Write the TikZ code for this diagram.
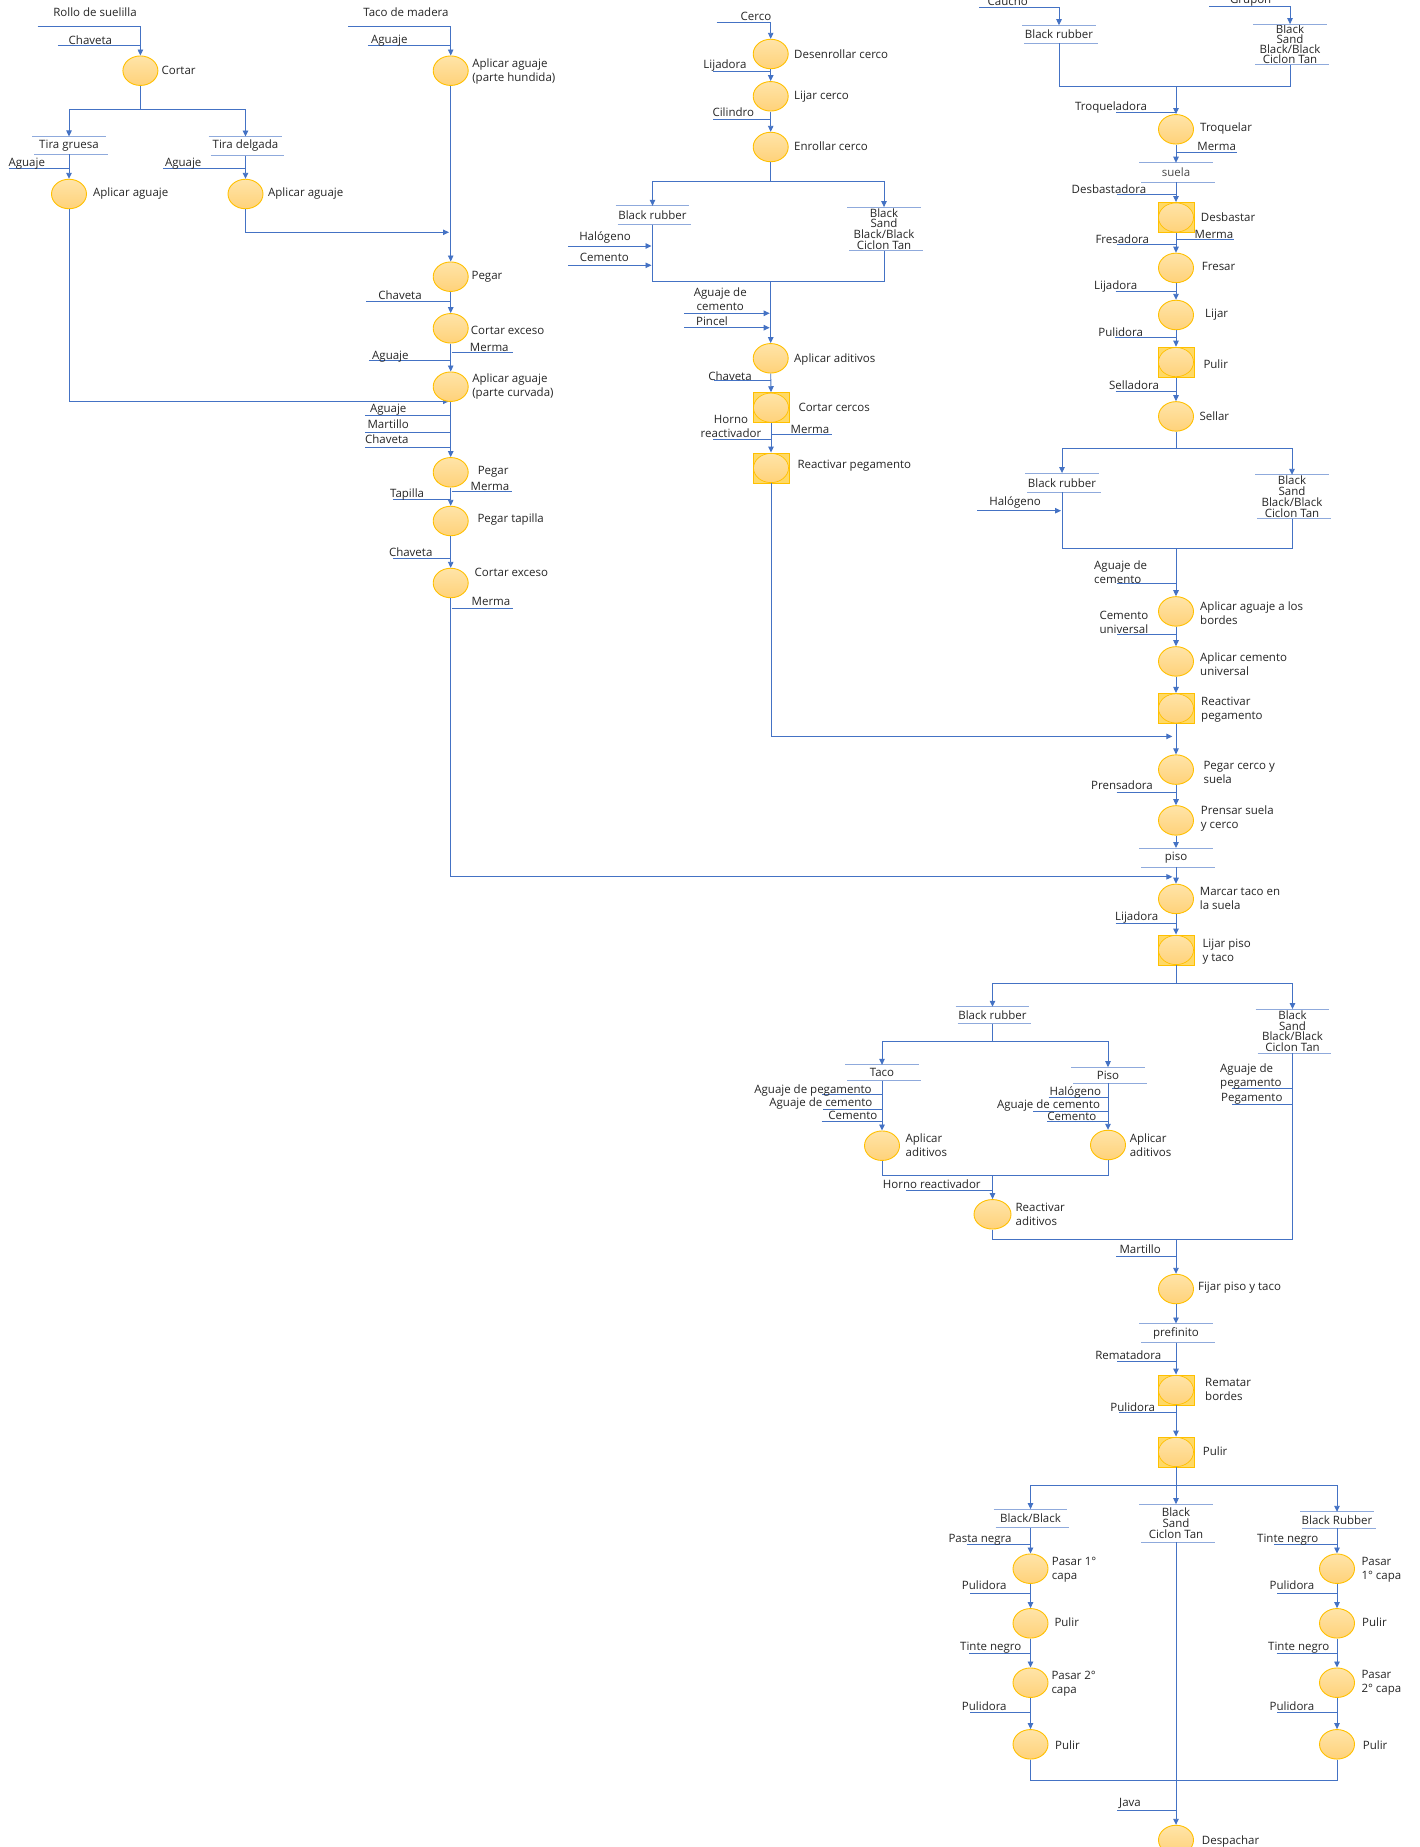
\documentclass[tikz,border=0pt]{standalone}
\usepackage{fontspec}
\setmainfont{Open Sans}
\usetikzlibrary{shapes.geometric,arrows.meta}
\definecolor{ink}{HTML}{262626}
\definecolor{cblue}{HTML}{4472C4}
\definecolor{lblue}{HTML}{8FAADC}
\definecolor{gold}{HTML}{FFC000}
\definecolor{procTop}{HTML}{FFE4A8}
\definecolor{procBot}{HTML}{FFD27A}
\definecolor{sqfill}{HTML}{FFD966}
\newcommand\fs{\fontsize{11.5pt}{14pt}\selectfont}
\newcommand\fb{\fontsize{11.5pt}{10.8pt}\selectfont}
\newcommand\fbt{\fontsize{11.5pt}{8.8pt}\selectfont}
% input line ending on a column: name, x0, y, target node, text, text x, text y
\newcommand\feedin[7]{\coordinate (#1) at (#2,#3);\draw[feed] (#1) -- (#1 -| #4);\node[tx] (#1t) at (#6,#7) {#5};}
% output line leaving a column to the right
\newcommand\feedout[7]{\coordinate (#1) at (#2,#3);\draw[feed] ([xshift=1pt]#1 -| #4) -- (#1);\node[tx] (#1t) at (#6,#7) {#5};}
% input arrow pointing at a column
\newcommand\feedarr[7]{\coordinate (#1) at (#2,#3);\draw[arr] (#1) -- ([xshift=-1pt]#1 -| #4);\node[tx] (#1t) at (#6,#7) {#5};}
\begin{document}
\begin{tikzpicture}[x=1pt,y=-1pt,
  tx/.style={inner sep=0pt, align=center, font=\fs, text=ink},
  lbl/.style={anchor=west, inner sep=0pt, align=left, font=\fs, text=ink},
  conn/.style={draw=cblue, line width=0.9pt},
  arr/.style={conn, -{Triangle[length=6pt,width=5.5pt]}},
  feed/.style={draw=cblue, line width=0.9pt},
  boxline/.style={draw=lblue, line width=1pt},
  proc/.style={ellipse, draw=gold, line width=0.9pt, top color=procTop, bottom color=procBot,
    minimum width=35pt, minimum height=29.5pt, inner sep=0pt},
  sq/.style={rectangle, draw=gold, line width=0.9pt, fill=sqfill, minimum width=36pt,
    minimum height=30pt, inner sep=0pt,
    path picture={\draw[gold, line width=0.7pt, top color=procTop, bottom color=procBot]
      (path picture bounding box.center) ellipse [x radius=17.5pt, y radius=14.6pt];}},
  mat/.style={inner sep=0pt, align=center, font=\fb, text=ink, minimum width=73.5pt,
    minimum height=#1,
    append after command={(\tikzlastnode.north west) edge[boxline] (\tikzlastnode.north east)
      ([xshift=2pt]\tikzlastnode.south west) edge[boxline] ([xshift=2pt]\tikzlastnode.south east)}},
  mat/.default=18pt]
\useasboundingbox (0,0) rectangle (1419,1847);
\fill[white] (0,0) rectangle (1419,1847);

%% ---------------- suelilla strips ----------------
\node[tx] (rollo) at (95,12.3) {Rollo de suelilla};
\coordinate (rolloS) at (37.5,26.3);
\node[proc] (cortar) at (140.4,70.7) {};
\node[lbl] (cortarL) at (161.4,70.7) {Cortar};
\draw[arr] (rolloS) -| (cortar.north);
\feedin{fa1}{57.9}{45}{cortar}{Chaveta}{90.4}{40.5}
\coordinate (splA) at (140.4,109.3);
\draw[conn] (cortar.south) -- (splA);
\node[mat=17.3pt] (gruesa) at (69,145.3) {Tira gruesa};
\node[mat=18.6pt] (delgada) at (245.5,146) {Tira delgada};
\draw[arr] (splA) -| (gruesa.north);
\draw[arr] (splA) -| (delgada.north);
\node[proc] (apA1) at (69,194) {};
\node[lbl] (apA1L) at (92.9,194) {Aplicar aguaje};
\draw[arr] (gruesa.south) -- (apA1.north);
\feedin{fa2}{8.9}{168.3}{apA1}{Aguaje}{26.8}{163.5}
\node[proc] (apA2) at (245.5,194) {};
\node[lbl] (apA2L) at (267.9,194) {Aplicar aguaje};
\draw[arr] (delgada.south) -- (apA2.north);
\feedin{fa3}{162.9}{168.3}{apA2}{Aguaje}{183.2}{164}
\coordinate (inB1) at (449,232.3);
\coordinate (inB2) at (449,401.3);
\draw[arr] (apA2.south) |- (inB1);
\draw[arr] (apA1.south) |- (inB2);

%% ---------------- wooden heel ----------------
\node[tx] (taco) at (406,12.3) {Taco de madera};
\coordinate (tacoS) at (348.2,26.3);
\node[proc] (apB1) at (450.7,70.7) {};
\node[lbl] (apB1L) at (472.1,71.5) {Aplicar aguaje\\(parte hundida)};
\draw[arr] (tacoS) -| (apB1.north);
\feedin{fb1}{367.9}{45}{apB1}{Aguaje}{389.3}{41}
\node[proc] (pegB1) at (450.7,276.7) {};
\node[lbl] (pegB1L) at (471.4,276.7) {Pegar};
\draw[arr] (apB1.south) -- (pegB1.north);
\feedin{fb2}{366}{301}{pegB1}{Chaveta}{400}{295.3}
\node[proc] (cortB1) at (450.7,328.3) {};
\node[lbl] (cortB1L) at (470.7,330.7) {Cortar exceso};
\draw[arr] (pegB1.south) -- (cortB1.north);
\feedout{mb1}{512.5}{352.3}{cortB1}{Merma}{489.3}{347.3}
\feedin{fb3}{368.9}{360.7}{cortB1}{Aguaje}{390.4}{356.5}
\node[proc] (apB2) at (450.7,386.7) {};
\node[lbl] (apB2L) at (472.1,387) {Aplicar aguaje\\(parte curvada)};
\draw[arr] (cortB1.south) -- (apB2.north);
\node[proc] (pegB2) at (450.7,472.3) {};
\node[tx] (pegB2L) at (493.2,471.3) {Pegar};
\draw[arr] (apB2.south) -- (pegB2.north);
\feedin{fb4}{365}{415.7}{pegB2}{Aguaje}{388.2}{409.5}
\feedin{fb5}{365}{432.3}{pegB2}{Martillo}{388.2}{424.3}
\feedin{fb6}{365}{447.3}{pegB2}{Chaveta}{386.8}{439.3}
\feedout{mb2}{511.8}{491.3}{pegB2}{Merma}{490}{486.7}
\node[proc] (pegB3) at (450.7,521) {};
\node[tx] (pegB3L) at (510.7,519.3) {Pegar tapilla};
\draw[arr] (pegB2.south) -- (pegB3.north);
\feedin{fb7}{392.9}{499.3}{pegB3}{Tapilla}{407.1}{494.7}
\node[proc] (cortB2) at (450.7,583) {};
\node[tx] (cortB2L) at (511.4,572.3) {Cortar exceso};
\draw[arr] (pegB3.south) -- (cortB2.north);
\feedin{fb8}{392.9}{558.3}{cortB2}{Chaveta}{410.7}{551.7}
\feedout{mb3}{513.2}{608.7}{cortB2}{Merma}{491}{601.7}

%% ---------------- welt ----------------
\node[tx] (cerco) at (756,16.3) {Cerco};
\coordinate (cercoS) at (716.7,22.3);
\node[proc] (desC) at (770.7,54) {};
\node[lbl] (desCL) at (794,54) {Desenrollar cerco};
\draw[arr] (cercoS) -| (desC.north);
\node[proc] (lijC) at (770.7,96.3) {};
\node[lbl] (lijCL) at (794,96.3) {Lijar cerco};
\draw[arr] (desC.south) -- (lijC.north);
\feedin{fc1}{713.3}{71.3}{lijC}{Lijadora}{725}{66}
\node[proc] (enrC) at (770.7,147) {};
\node[lbl] (enrCL) at (794,145.7) {Enrollar cerco};
\draw[arr] (lijC.south) -- (enrC.north);
\feedin{fc2}{713.3}{119.3}{enrC}{Cilindro}{733.3}{112.3}
\coordinate (splC) at (770.7,181.3);
\draw[conn] (enrC.south) -- (splC);
\node[mat=18.3pt] (brC) at (652.5,215.2) {Black rubber};
\node[mat=43.4pt, font=\fb] (bsC) at (884,229) {Black\\Sand\\Black/Black\\Ciclon Tan};
\draw[arr] (splC) -| (brC.north);
\draw[arr] (splC) -| (bsC.north);
\coordinate (mrgC) at (770.7,281.7);
\draw[conn] (brC.south) |- (mrgC);
\draw[conn] (bsC.south) |- (mrgC);
\feedarr{fc3}{568.3}{246}{brC}{Halógeno}{605}{237.3}
\feedarr{fc4}{568.3}{265.3}{brC}{Cemento}{604.3}{257.3}
\node[proc] (adiC) at (770.7,358.3) {};
\node[lbl] (adiCL) at (794,359.3) {Aplicar aditivos};
\draw[arr] (mrgC) -- (adiC.north);
\feedarr{fc5}{684.3}{313.3}{adiC}{Aguaje de\\cemento}{720.3}{299.3}
\feedarr{fc6}{684.3}{327.7}{adiC}{Pincel}{712}{321.3}
\node[sq] (cortC) at (771,407.7) {};
\node[lbl] (cortCL) at (798.3,407.3) {Cortar cercos};
\draw[arr] (adiC.south) -- (cortC.north);
\feedin{fc7}{714}{380.7}{cortC}{Chaveta}{730}{375.7}
\node[sq] (reaC) at (771,468) {};
\node[lbl] (reaCL) at (797.3,465.3) {Reactivar pegamento};
\draw[arr] (cortC.south) -- (reaC.north);
\feedin{fc8}{713.3}{439}{reaC}{Horno\\reactivador}{731}{426.3}
\feedout{mc1}{832.3}{434.3}{reaC}{Merma}{810}{429.3}
\coordinate (inD1) at (1172.3,736.4);
\draw[arr] (reaC.south) |- (inD1);

%% ---------------- sole ----------------
\node[tx] (caucho) at (1007.7,1) {Caucho};
\coordinate (cauS) at (979,7.1);
\node[mat=17.8pt] (brD) at (1059,34.3) {Black rubber};
\draw[arr] (cauS) -| (brD.north);
\node[tx] (grupon) at (1250.7,1) {Grupon};
\coordinate (gruS) at (1209,6.4);
\node[mat=40pt, font=\fbt] (bsD1) at (1290,44.3) {Black\\Sand\\Black/Black\\Ciclon Tan};
\draw[arr] (gruS) -| (bsD1.north);
\coordinate (mrgD1) at (1176,86.1);
\draw[conn] (brD.south) |- (mrgD1);
\draw[conn] (bsD1.south) |- (mrgD1);
\node[proc] (troD) at (1176,129.3) {};
\node[lbl] (troDL) at (1200,128.6) {Troquelar};
\draw[arr] (mrgD1) -- (troD.north);
\feedin{fd1}{1116}{112.1}{troD}{Troqueladora}{1111}{107.1}
\feedout{md1}{1236.7}{152.5}{troD}{Merma}{1216.7}{146.4}
\node[mat=19.2pt, text=ink!85] (suela) at (1176,172.5) {suela};
\draw[arr] (troD.south) -- (suela.north);
\node[sq] (desD) at (1176,217.5) {};
\node[lbl] (desDL) at (1200.7,217.1) {Desbastar};
\draw[arr] (suela.south) -- (desD.north);
\feedin{fd2}{1117.3}{194.6}{desD}{Desbastadora}{1109}{189.3}
\feedout{md2}{1234}{239.6}{desD}{Merma}{1214}{234.3}
\node[proc] (freD) at (1176,267.9) {};
\node[lbl] (freDL) at (1201.7,266.1) {Fresar};
\draw[arr] (desD.south) -- (freD.north);
\feedin{fd3}{1117.3}{244.6}{freD}{Fresadora}{1122.3}{239.3}
\node[proc] (lijD) at (1176,315) {};
\node[lbl] (lijDL) at (1205,314.3) {Lijar};
\draw[arr] (freD.south) -- (lijD.north);
\feedin{fd4}{1115.7}{291.1}{lijD}{Lijadora}{1115.7}{286.1}
\node[sq] (pulD) at (1176,362.1) {};
\node[lbl] (pulDL) at (1203.3,364.3) {Pulir};
\draw[arr] (lijD.south) -- (pulD.north);
\feedin{fd5}{1115}{337.1}{pulD}{Pulidora}{1120.7}{332.1}
\node[proc] (selD) at (1176,416.4) {};
\node[lbl] (selDL) at (1199.3,416.1) {Sellar};
\draw[arr] (pulD.south) -- (selD.north);
\feedin{fd6}{1115.7}{391.8}{selD}{Selladora}{1134}{385.4}
\coordinate (splD1) at (1176,448.9);
\draw[conn] (selD.south) -- (splD1);
\node[mat=18.9pt] (brD2) at (1062,482.7) {Black rubber};
\node[mat=43.6pt] (bsD2) at (1292,496.8) {Black\\Sand\\Black/Black\\Ciclon Tan};
\draw[arr] (splD1) -| (brD2.north);
\draw[arr] (splD1) -| (bsD2.north);
\feedarr{fd7}{977.3}{510.7}{brD2}{Halógeno}{1015}{502.1}
\coordinate (mrgD2) at (1176,548.9);
\draw[conn] (brD2.south) |- (mrgD2);
\draw[conn] (bsD2.south) |- (mrgD2);

%% ---------------- joining sole and welt ----------------
\node[proc] (apD1) at (1176,611.4) {};
\node[lbl] (apD1L) at (1200,613) {Aplicar aguaje a los\\bordes};
\draw[arr] (mrgD2) -- (apD1.north);
\coordinate (fd8) at (1117.3,583.6);
\draw[feed] (fd8) -- (fd8 -| apD1);
\node[lbl] (fd8t) at (1094,572.5) {Aguaje de\\cemento};
\node[proc] (apD2) at (1176,661.4) {};
\node[lbl] (apD2L) at (1200,664) {Aplicar cemento\\universal};
\draw[arr] (apD1.south) -- (apD2.north);
\coordinate (fd9) at (1117.3,634.3);
\draw[feed] (fd9) -- (fd9 -| apD2);
\node[lbl] (fd9t) at (1099.3,622) {Cemento\\universal};
\node[sq] (reaD) at (1176,708.4) {};
\node[lbl] (reaDL) at (1201,710) {Reactivar\\pegamento};
\draw[arr] (apD2.south) -- (reaD.north);
\node[proc] (pegD) at (1176,769.6) {};
\node[lbl] (pegDL) at (1203.3,772.3) {Pegar cerco y\\suela};
\draw[arr] (reaD.south) -- (pegD.north);
\node[proc] (preD) at (1176,820.4) {};
\node[lbl] (preDL) at (1200.7,818.7) {Prensar suela\\y cerco};
\draw[arr] (pegD.south) -- (preD.north);
\feedin{fd10}{1116.7}{792.5}{preD}{Prensadora}{1122}{785.4}
\node[mat=18.6pt] (piso) at (1176,857.5) {piso};
\draw[arr] (preD.south) -- (piso.north);
\coordinate (inD2) at (1172.3,876.8);
\draw[arr] (cortB2.south) |- (inD2);
\node[proc] (marD) at (1176,898.9) {};
\node[lbl] (marDL) at (1199.7,898) {Marcar taco en\\la suela};
\draw[arr] (piso.south) -- (marD.north);
\node[sq] (lijD2) at (1176,950) {};
\node[lbl] (lijD2L) at (1202.3,952) {Lijar piso\\y taco};
\draw[arr] (marD.south) -- (lijD2.north);
\feedin{fd11}{1115.7}{923.2}{lijD2}{Lijadora}{1136.7}{917.1}
\coordinate (splD2) at (1176,983.7);
\draw[conn] (lijD2.south) -- (splD2);

%% ---------------- heel and floor ----------------
\node[mat=16.7pt] (brE) at (992.5,1015.3) {Black rubber};
\node[mat=43.9pt] (bsE) at (1292.5,1031.2) {Black\\Sand\\Black/Black\\Ciclon Tan};
\draw[arr] (splD2) -| (brE.north);
\draw[arr] (splD2) -| (bsE.north);
\coordinate (splE) at (992.5,1041.7);
\draw[conn] (brE.south) -- (splE);
\node[mat=15.3pt] (tacoE) at (882,1072.7) {Taco};
\node[mat=15.7pt] (pisoE) at (1108,1075.2) {Piso};
\draw[arr] (splE) -| (tacoE.north);
\draw[arr] (splE) -| (pisoE.north);
\node[proc] (adE1) at (882,1145.7) {};
\node[lbl] (adE1L) at (905.4,1145.5) {Aplicar\\aditivos};
\draw[arr] (tacoE.south) -- (adE1.north);
\feedin{fe1}{822}{1094.3}{adE1}{Aguaje de pegamento}{813}{1090.3}
\feedin{fe2}{822.9}{1109.3}{adE1}{Aguaje de cemento}{820.9}{1103.7}
\feedin{fe3}{821.5}{1121.3}{adE1}{Cemento}{852.9}{1115.7}
\node[proc] (adE2) at (1108,1145) {};
\node[lbl] (adE2L) at (1129.6,1145.5) {Aplicar\\aditivos};
\draw[arr] (pisoE.south) -- (adE2.north);
\feedin{fe4}{1048.5}{1097.7}{adE2}{Halógeno}{1075.3}{1092.3}
\feedin{fe5}{1033.3}{1111}{adE2}{Aguaje de cemento}{1048.5}{1105.7}
\feedin{fe6}{1047.1}{1121.7}{adE2}{Cemento}{1071.9}{1116.3}
\coordinate (mrgE) at (992.5,1175.3);
\draw[conn] (adE1.south) |- (mrgE);
\draw[conn] (adE2.south) |- (mrgE);
\node[proc, minimum width=37pt] (reaE) at (992.5,1214.3) {};
\node[lbl] (reaEL) at (1015.4,1214) {Reactivar\\aditivos};
\draw[arr] (mrgE) -- (reaE.north);
\feedin{fe7}{905.9}{1190.7}{reaE}{Horno reactivador}{931.8}{1184.3}
\coordinate (fe8) at (1232,1088);
\draw[feed] (fe8) -- (fe8 -| bsE);
\node[lbl] (fe8t) at (1220,1076) {Aguaje de\\pegamento};
\coordinate (fe9) at (1232,1104.7);
\draw[feed] (fe9) -- (fe9 -| bsE);
\node[lbl] (fe9t) at (1221,1098.7) {Pegamento};
\coordinate (mrgF) at (1176,1239);
\draw[conn] (reaE.south) |- (mrgF);
\draw[conn] (bsE.south) |- (mrgF);
\node[proc] (fijD) at (1176,1289) {};
\node[lbl] (fijDL) at (1197.9,1287.7) {Fijar piso y taco};
\draw[arr] (mrgF) -- (fijD.north);
\feedin{fd12}{1116.3}{1256.3}{fijD}{Martillo}{1140.2}{1249.3}

%% ---------------- finishing ----------------
\node[mat=18.6pt] (pref) at (1176,1333) {prefinito};
\draw[arr] (fijD.south) -- (pref.north);
\node[sq] (remD) at (1176,1390) {};
\node[lbl] (remDL) at (1205,1389.5) {Rematar\\bordes};
\draw[arr] (pref.south) -- (remD.north);
\feedin{fg1}{1117.3}{1361}{remD}{Rematadora}{1128.3}{1355.3}
\node[sq] (pulD2) at (1176,1452) {};
\node[lbl] (pulD2L) at (1202.7,1451.3) {Pulir};
\draw[arr] (remD.south) -- (pulD2.north);
\feedin{fg2}{1119}{1412.7}{pulD2}{Pulidora}{1132.7}{1407.3}
\coordinate (splG) at (1176,1485.3);
\node[mat=18.4pt] (bbG) at (1030.5,1518.5) {Black/Black};
\node[mat=37.7pt] (bsG) at (1176,1523.2) {Black\\Sand\\Ciclon Tan};
\node[mat=16pt] (brG) at (1337,1520) {Black Rubber};
\draw[arr] (pulD2.south) -- (bsG.north);
\draw[arr] (splG) -| (bbG.north);
\draw[arr] (splG) -| (brG.north);

% black/black branch
\node[proc] (p1L) at (1030.5,1568.7) {};
\node[lbl] (p1LL) at (1051.7,1569.5) {Pasar 1°\\capa};
\draw[arr] (bbG.south) -- (p1L.north);
\feedin{fg3}{966.7}{1544.7}{p1L}{Pasta negra}{980}{1539.3}
\node[proc] (p2L) at (1030.5,1623.3) {};
\node[lbl] (p2LL) at (1054.3,1622.3) {Pulir};
\draw[arr] (p1L.south) -- (p2L.north);
\feedin{fg4}{970}{1593.3}{p2L}{Pulidora}{984.3}{1585.3}
\node[proc] (p3L) at (1030.5,1682.7) {};
\node[lbl] (p3LL) at (1051.3,1684) {Pasar 2°\\capa};
\draw[arr] (p2L.south) -- (p3L.north);
\feedin{fg5}{969}{1653.3}{p3L}{Tinte negro}{990.7}{1647.3}
\node[proc] (p4L) at (1030.5,1744.3) {};
\node[lbl] (p4LL) at (1055,1745.3) {Pulir};
\draw[arr] (p3L.south) -- (p4L.north);
\feedin{fg6}{970}{1712.7}{p4L}{Pulidora}{984.3}{1705.7}

% black rubber branch
\node[proc] (p1R) at (1337,1568.7) {};
\node[lbl] (p1RL) at (1361.3,1569.5) {Pasar\\1° capa};
\draw[arr] (brG.south) -- (p1R.north);
\feedin{fg7}{1274.3}{1544.7}{p1R}{Tinte negro}{1287.7}{1539.3}
\node[proc] (p2R) at (1337,1623.3) {};
\node[lbl] (p2RL) at (1362,1622.3) {Pulir};
\draw[arr] (p1R.south) -- (p2R.north);
\feedin{fg8}{1277.3}{1593.3}{p2R}{Pulidora}{1292}{1585.3}
\node[proc] (p3R) at (1337,1682.7) {};
\node[lbl] (p3RL) at (1361.3,1683) {Pasar\\2° capa};
\draw[arr] (p2R.south) -- (p3R.north);
\feedin{fg9}{1276.7}{1653.3}{p3R}{Tinte negro}{1298.7}{1647.3}
\node[proc] (p4R) at (1337,1744.3) {};
\node[lbl] (p4RL) at (1362.7,1745.3) {Pulir};
\draw[arr] (p3R.south) -- (p4R.north);
\feedin{fg10}{1277.3}{1712.7}{p4R}{Pulidora}{1292}{1705.7}

\coordinate (mrgG) at (1176,1780.7);
\draw[conn] (p4L.south) |- (mrgG);
\draw[conn] (p4R.south) |- (mrgG);
\node[proc] (despD) at (1176,1840) {};
\node[lbl] (despDL) at (1201.7,1841.7) {Despachar};
\draw[arr] (bsG.south) -- (despD.north);
\feedin{fg11}{1117.3}{1810.7}{despD}{Java}{1130}{1803.3}
\end{tikzpicture}
\end{document}
